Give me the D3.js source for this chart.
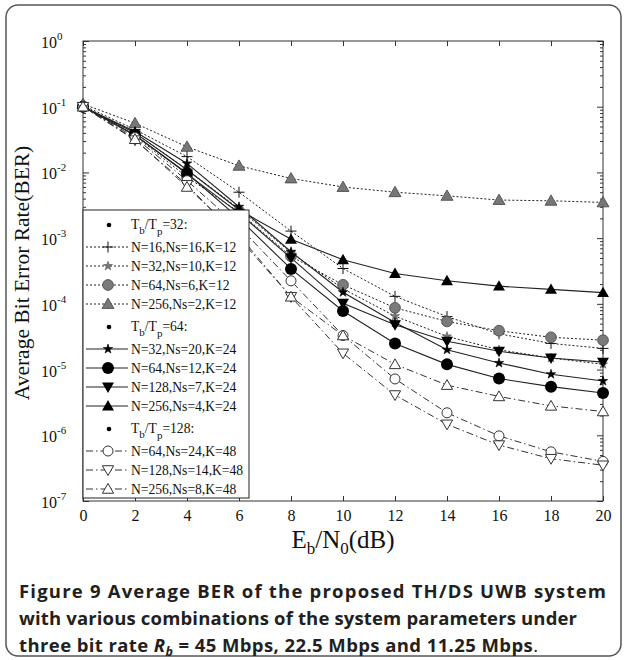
<!DOCTYPE html>
<html>
<head>
<meta charset="utf-8">
<script src="https://cdn.jsdelivr.net/npm/d3@7"></script>
<style>
  body { margin: 0; background: #fff; }
  svg { display: block; }
</style>
</head>
<body>
<svg id="fig" width="625" height="660"></svg>
<script>
// ---- data ----
const snrDb = [0, 2, 4, 6, 8, 10, 12, 14, 16, 18, 20];
const xTickValues = [0, 2, 4, 6, 8, 10, 12, 14, 16, 18, 20];
const yTickExponents = [0, -1, -2, -3, -4, -5, -6, -7];

// Tb/Tp = 32
const ber_N16_Ns16_K12  = [0.105, 0.045, 0.0174, 0.005, 1.28e-3, 3.45e-4, 1.3e-4, 6.4e-5, 3.5e-5, 2.5e-5, 2.1e-5];
const ber_N32_Ns10_K12  = [0.1, 0.04, 0.011, 2.8e-3, 6.0e-4, 1.7e-4, 6.5e-5, 3.2e-5, 2.0e-5, 1.5e-5, 1.2e-5];
const ber_N64_Ns6_K12   = [0.1, 0.036, 0.0085, 2.5e-3, 5.3e-4, 1.95e-4, 8.7e-5, 5.4e-5, 3.9e-5, 3.1e-5, 2.8e-5];
const ber_N256_Ns2_K12  = [0.11, 0.056, 0.0245, 0.0126, 8.1e-3, 6.0e-3, 5.0e-3, 4.4e-3, 3.8e-3, 3.7e-3, 3.5e-3];
// Tb/Tp = 64
const ber_N32_Ns20_K24  = [0.1, 0.042, 0.0137, 3.0e-3, 6.2e-4, 1.5e-4, 5.2e-5, 2.0e-5, 1.26e-5, 8.5e-6, 6.7e-6];
const ber_N64_Ns12_K24  = [0.1, 0.037, 0.0097, 2.0e-3, 3.4e-4, 7.8e-5, 2.5e-5, 1.2e-5, 7.3e-6, 5.5e-6, 4.4e-6];
const ber_N128_Ns7_K24  = [0.1, 0.037, 0.0095, 2.4e-3, 5.0e-4, 1.02e-4, 4.8e-5, 2.7e-5, 1.9e-5, 1.5e-5, 1.3e-5];
const ber_N256_Ns4_K24  = [0.1, 0.04, 0.011, 2.7e-3, 9.6e-4, 4.7e-4, 2.9e-4, 2.25e-4, 1.86e-4, 1.66e-4, 1.48e-4];
// Tb/Tp = 128
const ber_N64_Ns24_K48  = [0.1, 0.034, 0.0075, 1.5e-3, 2.24e-4, 3.3e-5, 7.2e-6, 2.2e-6, 9.8e-7, 5.6e-7, 4.0e-7];
const ber_N128_Ns14_K48 = [0.1, 0.031, 0.0065, 1.0e-3, 1.28e-4, 1.77e-5, 4.1e-6, 1.47e-6, 7.1e-7, 4.4e-7, 3.5e-7];
const ber_N256_Ns8_K48  = [0.1, 0.032, 0.006, 1.1e-3, 1.28e-4, 3.3e-5, 1.2e-5, 5.8e-6, 3.9e-6, 2.8e-6, 2.3e-6];

const groupRatios = ["32", "64", "128"];
const labels32  = ["N=16,Ns=16,K=12", "N=32,Ns=10,K=12", "N=64,Ns=6,K=12", "N=256,Ns=2,K=12"];
const labels64  = ["N=32,Ns=20,K=24", "N=64,Ns=12,K=24", "N=128,Ns=7,K=24", "N=256,Ns=4,K=24"];
const labels128 = ["N=64,Ns=24,K=48", "N=128,Ns=14,K=48", "N=256,Ns=8,K=48"];

// ---- series table built from the arrays above ----
const groups = [
  { ratio: groupRatios[0], line: "dot",
    series: [
      { label: labels32[0], values: ber_N16_Ns16_K12, marker: "plus" },
      { label: labels32[1], values: ber_N32_Ns10_K12, marker: "gstar" },
      { label: labels32[2], values: ber_N64_Ns6_K12,  marker: "gcircle" },
      { label: labels32[3], values: ber_N256_Ns2_K12, marker: "gtri" } ] },
  { ratio: groupRatios[1], line: "solid",
    series: [
      { label: labels64[0], values: ber_N32_Ns20_K24, marker: "bstar" },
      { label: labels64[1], values: ber_N64_Ns12_K24, marker: "bcircle" },
      { label: labels64[2], values: ber_N128_Ns7_K24, marker: "btridown" },
      { label: labels64[3], values: ber_N256_Ns4_K24, marker: "btri" } ] },
  { ratio: groupRatios[2], line: "dashdot",
    series: [
      { label: labels128[0], values: ber_N64_Ns24_K48,  marker: "ocircle" },
      { label: labels128[1], values: ber_N128_Ns14_K48, marker: "otridown" },
      { label: labels128[2], values: ber_N256_Ns8_K48,  marker: "otri" } ] }
];

// ---- styles ----
const lineStyles = {
  dot:     { dash: "2,2",         width: 1,   color: "#222" },
  solid:   { dash: null,          width: 1.1, color: "#222" },
  dashdot: { dash: "7,3,1.5,3",   width: 1,   color: "#333" }
};
const serif = "'Liberation Serif', 'Times New Roman', serif";

const svg = d3.select("#fig");

// outer frame
svg.append("rect")
  .attr("x", 6).attr("y", 5).attr("width", 615).attr("height", 651)
  .attr("rx", 12).attr("ry", 12)
  .attr("fill", "#fff").attr("stroke", "#555").attr("stroke-width", 1.5);

const x = d3.scaleLinear().domain([0, 20]).range([83, 603]);
const y = d3.scaleLog().domain([1e-7, 1]).range([501, 41]);

const majorVals = yTickExponents.map(e => Math.pow(10, e));
const minorVals = [];
for (let e = -7; e < 0; e++) {
  for (let m = 2; m <= 9; m++) minorVals.push(m * Math.pow(10, e));
}

const axisColor = "#333";
function styleAxis(g) {
  g.selectAll("path,line").attr("stroke", axisColor).attr("stroke-width", 1);
  g.select(".domain").remove();
}

// x ticks (inward), bottom & top
svg.append("g").attr("transform", "translate(0,501)")
  .call(d3.axisBottom(x).tickValues(xTickValues).tickSize(-5).tickSizeOuter(0).tickPadding(9))
  .call(styleAxis)
  .call(g => g.selectAll("text").attr("font-family", serif).attr("font-size", 16).attr("fill", "#111"));
svg.append("g").attr("transform", "translate(0,41)")
  .call(d3.axisTop(x).tickValues(xTickValues).tickSize(-5).tickSizeOuter(0).tickFormat(""))
  .call(styleAxis);

// y ticks (major and minor, inward), left & right
svg.append("g").attr("transform", "translate(83,0)")
  .call(d3.axisLeft(y).tickValues(majorVals).tickSize(-6).tickSizeOuter(0).tickFormat(""))
  .call(styleAxis);
svg.append("g").attr("transform", "translate(83,0)")
  .call(d3.axisLeft(y).tickValues(minorVals).tickSize(-3).tickSizeOuter(0).tickFormat(""))
  .call(styleAxis);
svg.append("g").attr("transform", "translate(603,0)")
  .call(d3.axisRight(y).tickValues(majorVals).tickSize(-6).tickSizeOuter(0).tickFormat(""))
  .call(styleAxis);
svg.append("g").attr("transform", "translate(603,0)")
  .call(d3.axisRight(y).tickValues(minorVals).tickSize(-3).tickSizeOuter(0).tickFormat(""))
  .call(styleAxis);

// plot box
svg.append("rect")
  .attr("x", x(0)).attr("y", y(1))
  .attr("width", x(20) - x(0)).attr("height", y(1e-7) - y(1))
  .attr("fill", "none").attr("stroke", axisColor).attr("stroke-width", 1);

// y tick labels 10^e
yTickExponents.forEach(e => {
  const t = svg.append("text")
    .attr("x", 41).attr("y", y(Math.pow(10, e)) + 7)
    .attr("font-family", serif).attr("font-size", 16).attr("fill", "#111");
  t.append("tspan").text("10");
  t.append("tspan").attr("dy", -8).attr("font-size", 11).text(e === 0 ? "0" : "-" + (-e));
});

// axis titles
const xl = svg.append("text")
  .attr("x", 343).attr("y", 548).attr("text-anchor", "middle")
  .attr("font-family", serif).attr("font-size", 25).attr("fill", "#111");
xl.append("tspan").text("E");
xl.append("tspan").attr("dy", 6).attr("font-size", 17).text("b");
xl.append("tspan").attr("dy", -6).text("/N");
xl.append("tspan").attr("dy", 6).attr("font-size", 17).text("0");
xl.append("tspan").attr("dy", -6).text("(dB)");

svg.append("text")
  .attr("transform", "translate(29,273) rotate(-90)")
  .attr("text-anchor", "middle")
  .attr("font-family", serif).attr("font-size", 21.5).attr("fill", "#111")
  .text("Average Bit Error Rate(BER)");

// ---- markers ----
function drawMarker(g, type, cx, cy) {
  const sym = (shape, size) => d3.symbol().type(shape).size(size)();
  switch (type) {
    case "plus":
      g.append("path")
        .attr("d", `M${cx - 5.5},${cy}H${cx + 5.5}M${cx},${cy - 5.5}V${cy + 5.5}`)
        .attr("stroke", "#111").attr("stroke-width", 1).attr("fill", "none");
      return;
    case "gstar":
      g.append("path").attr("d", sym(d3.symbolStar, 26))
        .attr("transform", `translate(${cx},${cy})`)
        .attr("fill", "#777").attr("stroke", "#555").attr("stroke-width", 0.6);
      return;
    case "gcircle":
      g.append("circle").attr("cx", cx).attr("cy", cy).attr("r", 5.4)
        .attr("fill", "#7a7a7a").attr("stroke", "#444").attr("stroke-width", 0.8);
      return;
    case "gtri":
      g.append("path").attr("d", sym(d3.symbolTriangle, 62))
        .attr("transform", `translate(${cx},${cy + 1})`)
        .attr("fill", "#777").attr("stroke", "#444").attr("stroke-width", 0.8);
      return;
    case "bstar":
      g.append("path").attr("d", sym(d3.symbolStar, 28))
        .attr("transform", `translate(${cx},${cy})`)
        .attr("fill", "#000").attr("stroke", "#000").attr("stroke-width", 0.6);
      return;
    case "bcircle":
      g.append("circle").attr("cx", cx).attr("cy", cy).attr("r", 6)
        .attr("fill", "#000");
      return;
    case "btridown":
      g.append("path").attr("d", sym(d3.symbolTriangle, 62))
        .attr("transform", `translate(${cx},${cy - 1}) rotate(180)`)
        .attr("fill", "#000");
      return;
    case "btri":
      g.append("path").attr("d", sym(d3.symbolTriangle, 62))
        .attr("transform", `translate(${cx},${cy + 1})`)
        .attr("fill", "#000");
      return;
    case "ocircle":
      g.append("circle").attr("cx", cx).attr("cy", cy).attr("r", 5)
        .attr("fill", "#fff").attr("stroke", "#333").attr("stroke-width", 1);
      return;
    case "otridown":
      g.append("path").attr("d", sym(d3.symbolTriangle, 55))
        .attr("transform", `translate(${cx},${cy - 1}) rotate(180)`)
        .attr("fill", "#fff").attr("stroke", "#333").attr("stroke-width", 1);
      return;
    case "otri":
      g.append("path").attr("d", sym(d3.symbolTriangle, 55))
        .attr("transform", `translate(${cx},${cy + 1})`)
        .attr("fill", "#fff").attr("stroke", "#333").attr("stroke-width", 1);
      return;
  }
}

// ---- curves ----
const line = d3.line().x((d, i) => x(snrDb[i])).y(d => y(d));
const curves = svg.append("g");
groups.forEach(grp => {
  const ls = lineStyles[grp.line];
  grp.series.forEach(s => {
    curves.append("path")
      .attr("d", line(s.values))
      .attr("fill", "none")
      .attr("stroke", ls.color)
      .attr("stroke-width", ls.width)
      .attr("stroke-dasharray", ls.dash);
  });
});
const marks = svg.append("g");
groups.forEach(grp => {
  grp.series.forEach(s => {
    s.values.forEach((v, i) => drawMarker(marks, s.marker, x(snrDb[i]), y(v)));
  });
});

// ---- legend ----
const lg = svg.append("g");
lg.append("rect")
  .attr("x", 83).attr("y", 210).attr("width", 166).attr("height", 288)
  .attr("fill", "#fff").attr("stroke", "#222").attr("stroke-width", 1);

const legendFont = 13.6;
let ly = 225;
groups.forEach((grp, gi) => {
  if (gi > 0) ly += 4;
  // group header
  lg.append("circle").attr("cx", 109).attr("cy", ly).attr("r", 2.3).attr("fill", "#000");
  const ht = lg.append("text").attr("x", 131).attr("y", ly + 4)
    .attr("font-family", serif).attr("font-size", legendFont).attr("fill", "#111");
  ht.append("tspan").text("T");
  ht.append("tspan").attr("dy", 5).attr("font-size", 11).text("b");
  ht.append("tspan").attr("dy", -5).text("/T");
  ht.append("tspan").attr("dy", 6).attr("font-size", 11).text("p");
  ht.append("tspan").attr("dy", -6).text("=" + grp.ratio + ":");
  ly += 22;
  const ls = lineStyles[grp.line];
  grp.series.forEach(s => {
    lg.append("line")
      .attr("x1", 86).attr("x2", 128).attr("y1", ly).attr("y2", ly)
      .attr("stroke", ls.color).attr("stroke-width", ls.width)
      .attr("stroke-dasharray", ls.dash);
    drawMarker(lg, s.marker, 108, ly);
    lg.append("text").attr("x", 131).attr("y", ly + 5)
      .attr("font-family", serif).attr("font-size", legendFont).attr("fill", "#111")
      .text(s.label);
    ly += 19;
  });
});

// ---- caption ----
const capFont = "'Open Sans', 'Noto Sans', sans-serif";
const cap = svg.append("g")
  .attr("font-family", capFont).attr("font-size", 18.5).attr("font-weight", 700).attr("fill", "#231f20");
cap.append("text").attr("x", 19).attr("y", 598)
  .attr("textLength", 587).attr("lengthAdjust", "spacing")
  .text("Figure 9 Average BER of the proposed TH/DS UWB system");
cap.append("text").attr("x", 19).attr("y", 625)
  .attr("textLength", 558).attr("lengthAdjust", "spacing")
  .text("with various combinations of the system parameters under");
const c3 = cap.append("text").attr("x", 19).attr("y", 652)
  .attr("textLength", 519).attr("lengthAdjust", "spacing");
c3.append("tspan").text("three bit rate ");
c3.append("tspan").attr("font-style", "italic").text("R");
c3.append("tspan").attr("font-style", "italic").attr("font-size", 12.5).attr("dy", 4).text("b");
c3.append("tspan").attr("dy", -4).text(" = 45 Mbps, 22.5 Mbps and 11.25 Mbps");
c3.append("tspan").attr("font-weight", 400).text(".");
</script>
</body>
</html>
